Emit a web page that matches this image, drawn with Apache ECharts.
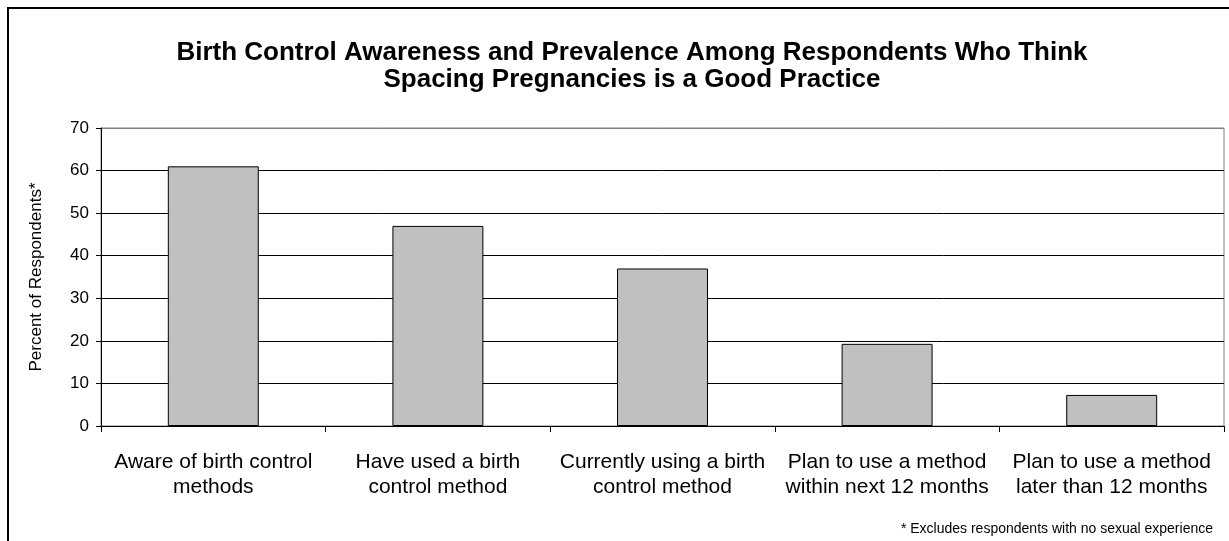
<!DOCTYPE html>
<html>
<head>
<meta charset="utf-8">
<script src="https://cdn.jsdelivr.net/npm/echarts@6/dist/echarts.min.js"></script>
<style>
html,body{margin:0;padding:0;background:#fff;}
#chart{width:1229px;height:541px;}
</style>
</head>
<body>
<div id="chart"></div>
<script>
const categories = [
  "Aware of birth control\nmethods",
  "Have used a birth\ncontrol method",
  "Currently using a birth\ncontrol method",
  "Plan to use a method\nwithin next 12 months",
  "Plan to use a method\nlater than 12 months"
];
const values = [61, 47, 37, 19.3, 7.3];
const titleText = "Birth Control Awareness and Prevalence Among Respondents Who Think\nSpacing Pregnancies is a Good Practice";
const yAxisName = "Percent of Respondents*";
const footnote = "* Excludes respondents with no sexual experience";

const chart = echarts.init(document.getElementById('chart'), null, {renderer: 'canvas'});
const font = 'Arial, "Liberation Sans", sans-serif';
chart.setOption({
  animation: false,
  backgroundColor: '#fff',
  title: {
    text: titleText,
    left: 627,
    top: 34,
    textAlign: 'center',
    textStyle: {fontFamily: font, fontSize: 26, fontWeight: 'bold', color: '#000', lineHeight: 27}
  },
  graphic: [
    {type: 'rect', shape: {x: 8, y: 8, width: 1240, height: 560}, style: {fill: 'none', stroke: '#000', lineWidth: 2}, z: 100},
    {type: 'text', right: 16, top: 522, style: {text: footnote, font: '14px ' + font, fill: '#000'}}
  ],
  grid: {left: 101, right: 5, top: 128, bottom: 115, show: true, borderColor: '#808080', borderWidth: 1, backgroundColor: 'transparent'},
  xAxis: {
    type: 'category',
    data: categories,
    axisLine: {lineStyle: {color: '#000', width: 1}},
    axisTick: {show: true, length: 6, alignWithLabel: false, lineStyle: {color: '#000'}},
    axisLabel: {fontFamily: font, fontSize: 21, color: '#000', lineHeight: 25, margin: 24, interval: 0}
  },
  yAxis: {
    type: 'value',
    min: 0, max: 70, interval: 10,
    name: yAxisName,
    nameLocation: 'middle',
    nameGap: 56,
    nameTextStyle: {fontFamily: font, fontSize: 17, color: '#000'},
    axisLine: {show: true, lineStyle: {color: '#000', width: 1}},
    axisTick: {show: true, length: 5, lineStyle: {color: '#000'}},
    axisLabel: {fontFamily: font, fontSize: 17, color: '#000', margin: 12},
    splitLine: {show: true, lineStyle: {color: ['#000','#000','#000','#000','#000','#000','#000','#808080'], width: 1}}
  },
  series: [{
    type: 'bar',
    data: values,
    barWidth: '40.5%',
    itemStyle: {color: '#c0c0c0', borderColor: '#000', borderWidth: 1}
  }]
});
</script>
</body>
</html>
